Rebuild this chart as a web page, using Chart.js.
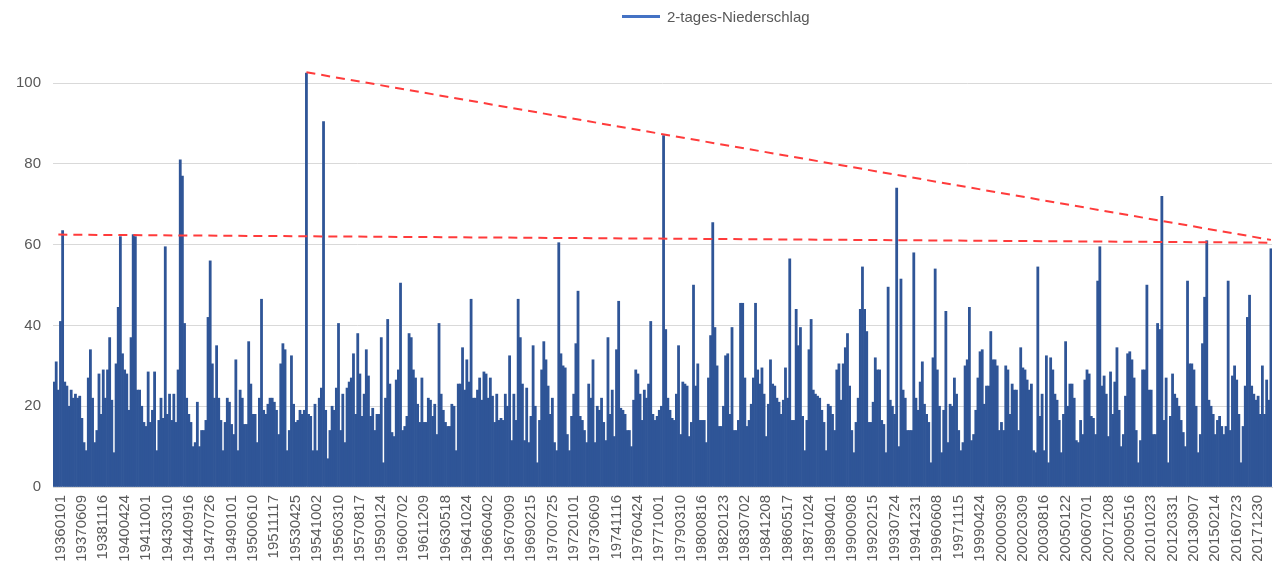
<!DOCTYPE html>
<html>
<head>
<meta charset="utf-8">
<script src="https://cdn.jsdelivr.net/npm/chart.js@4.4.1/dist/chart.umd.min.js"></script>
<style>
  body { margin: 0; background: #fff; font-family: 'Liberation Sans', Arial, sans-serif; }
  .wrap { position: relative; width: 1273px; height: 569px; }
  .legend { position: absolute; left: 622px; top: 8px; display: flex; align-items: center; color: #595959; font-size: 15px; }
  .legend .swatch { width: 38px; height: 3px; background: #4472c4; margin-right: 7px; }
</style>
</head>
<body>
<div class="wrap">
  <canvas id="chart"></canvas>
  <div class="legend"><span class="swatch"></span><span>2-tages-Niederschlag</span></div>
</div>
<script>
// tick labels (every 10th bar, starting at bar 3)
const tickLabels = [
  '19360101', '19370609', '19381116', '19400424', '19411001', '19430310', '19440916', '19470726',
  '19490101', '19500610', '19511117', '19530425', '19541002', '19560310', '19570817', '19590124',
  '19600702', '19611209', '19630518', '19641024', '19660402', '19670909', '19690215', '19700725',
  '19720101', '19730609', '19741116', '19760424', '19771001', '19790310', '19800816', '19820123',
  '19830702', '19841208', '19860517', '19871024', '19890401', '19900908', '19920215', '19930724',
  '19941231', '19960608', '19971115', '19990424', '20000930', '20020309', '20030816', '20050122',
  '20060701', '20071208', '20090516', '20101023', '20120331', '20130907', '20150214', '20160723',
  '20171230'
]
const firstTick = 3
const tickEvery = 10

// 2-tages-Niederschlag, one row per tick interval
const niederschlag = [
  26, 31, 24, 41, 63.5, 26, 25, 20, 24, 22,
  23, 22, 22.5, 17, 11, 9, 27, 34, 22, 11,
  14, 28, 18, 29, 22, 29, 37, 21.5, 8.5, 30.5,
  44.5, 62, 33, 29, 28, 19, 37, 62.5, 62, 24,
  24, 20, 16, 15, 28.5, 16, 19, 28.5, 9, 16.5,
  22, 17, 59.5, 18, 23, 16.5, 23, 16, 29, 81,
  77, 40.5, 22, 18, 16, 10, 11, 21, 10, 14,
  14, 16.5, 42, 56, 30.5, 22, 35, 22, 16.5, 9,
  16, 22, 21, 15.5, 13, 31.5, 9, 24, 22, 15.5,
  15.5, 36, 25.5, 18, 18, 11, 22, 46.5, 19, 18,
  20.5, 22, 22, 21, 19, 13, 30.5, 35.5, 34, 9,
  14, 32.5, 20.5, 16, 16.5, 19, 18, 19, 102.5, 18,
  17.5, 9, 20.5, 9, 22, 24.5, 90.5, 19, 7, 14,
  20, 19, 24.5, 40.5, 14, 23, 11, 24.5, 26, 27,
  33, 18, 38, 28, 17.5, 23, 34, 27.5, 17.5, 19.5,
  14, 18, 18, 37, 6, 22, 41.5, 25.5, 13.5, 12.5,
  26.5, 29, 50.5, 14, 15, 17.5, 38, 37, 29, 27,
  20.5, 16, 27, 16, 16, 22, 21.5, 17.5, 20.5, 13,
  40.5, 23, 19, 16, 15, 15, 20.5, 20, 9, 25.5,
  25.5, 34.5, 24, 31.5, 26, 46.5, 22, 22, 24, 27,
  21.5, 28.5, 28, 22, 27, 22.5, 16, 23, 16.5, 17,
  16.5, 23, 20, 32.5, 11.5, 23, 16.5, 46.5, 37, 25.5,
  11.5, 24.5, 11, 17.5, 35, 20, 6, 16.5, 29, 36,
  31.5, 25, 18, 22, 11, 9, 60.5, 33, 30, 29.5,
  13, 9, 17.5, 23, 35.5, 48.5, 17.5, 16.5, 14, 11,
  25.5, 22, 31.5, 11, 20, 19, 22, 16, 11.5, 37,
  18, 24, 12.5, 34, 46, 19.5, 19, 18, 14, 14,
  10, 21.5, 29, 28, 23, 16.5, 24, 22, 25.5, 41,
  18, 16.5, 17.5, 19, 20, 87, 39, 22, 19, 17,
  16.5, 23, 35, 13, 26, 25.5, 25, 12.5, 16, 50,
  25, 30.5, 16.5, 16.5, 16.5, 11, 27, 37.5, 65.5, 39.5,
  30, 15, 15, 20, 32.5, 33, 18, 39.5, 14, 14,
  16.5, 45.5, 45.5, 27, 15, 16.5, 20.5, 27, 45.5, 29,
  25.5, 29.5, 23, 12.5, 20.5, 31.5, 25.5, 25, 22, 21,
  18, 21.5, 29.5, 22, 56.5, 16.5, 16.5, 44, 35, 39.5,
  17.5, 9, 16.5, 34, 41.5, 24, 23, 22.5, 22, 19,
  16, 9, 20.5, 20, 18, 14, 29, 30.5, 21.5, 30.5,
  34.5, 38, 25, 14, 8.5, 16, 22, 44, 54.5, 44,
  38.5, 16, 16, 21, 32, 29, 29, 16.5, 15.5, 8.5,
  49.5, 21.5, 20, 18, 74, 10, 51.5, 24, 22, 14,
  14, 14, 58, 22, 19, 26, 31, 20.5, 18, 16,
  6, 32, 54, 29, 20, 8.5, 19, 43.5, 11, 20.5,
  20, 27, 23, 14, 9, 11, 30, 31.5, 44.5, 11.5,
  13, 19, 27, 33.5, 34, 20.5, 25, 25, 38.5, 31.5,
  31.5, 30, 14, 16, 14, 30, 29, 18, 25.5, 24,
  24, 14, 34.5, 29.5, 29, 26.5, 24, 25.5, 9, 8.5,
  54.5, 17.5, 23, 9, 32.5, 6, 32, 29, 23, 21.5,
  16.5, 8.5, 18, 36, 20, 25.5, 25.5, 22, 11.5, 11,
  16.5, 13, 26.5, 29, 28, 17.5, 17, 13, 51, 59.5,
  25, 27.5, 23, 12.5, 28.5, 18, 26, 34.5, 19, 10,
  13, 22.5, 33, 33.5, 31.5, 27, 14, 6, 11.5, 29,
  29, 50, 24, 24, 13, 13, 40.5, 39, 72, 16.5,
  27, 6, 17.5, 28, 23, 22, 20, 16.5, 13.5, 10,
  51, 30.5, 30.5, 29, 20, 8.5, 13, 35.5, 47, 61,
  21.5, 20, 18, 13, 16.5, 17.5, 15, 13, 15, 51,
  14, 27.5, 30, 26.5, 18, 6, 15, 25, 42, 47.5,
  25, 23, 21.5, 22.5, 18, 30, 18, 26.5, 21.5, 59
]

// red dashed guide lines: [bar index, value]
const flatTrend = [[2, 62.5], [569, 60.5]]
const peakTrend = [[118, 102.7], [569, 61.2]]

const labels = niederschlag.map((v, i) => i)

function sparse(points) {
  const arr = labels.map(() => null)
  points.forEach(([i, y]) => { arr[i] = y })
  return arr
}

const font = { family: "'Liberation Sans', Arial, sans-serif", size: 15 }

new Chart(document.getElementById('chart'), {
  type: 'bar',
  data: {
    labels: labels,
    datasets: [
      {
        type: 'line',
        data: sparse(peakTrend),
        borderColor: '#ff3b3b',
        borderWidth: 2,
        borderDash: [9, 6],
        pointRadius: 0,
        spanGaps: true,
        order: 0
      },
      {
        type: 'line',
        data: sparse(flatTrend),
        borderColor: '#ff3b3b',
        borderWidth: 2,
        borderDash: [9, 6],
        pointRadius: 0,
        spanGaps: true,
        order: 0
      },
      {
        label: '2-tages-Niederschlag',
        data: niederschlag,
        backgroundColor: '#2f5597',
        borderWidth: 0,
        barPercentage: 1,
        categoryPercentage: 1,
        order: 1
      }
    ]
  },
  options: {
    responsive: true,
    maintainAspectRatio: false,
    animation: false,
    layout: { padding: { top: 63, right: 1, bottom: 0, left: 0 } },
    plugins: {
      legend: { display: false },
      tooltip: { enabled: false }
    },
    scales: {
      x: {
        grid: { display: false, drawTicks: false },
        border: { color: '#d9d9d9' },
        afterFit: (scale) => {
          scale.height = 82
          scale.paddingLeft = 0
          scale.paddingRight = 0
        },
        ticks: {
          autoSkip: false,
          minRotation: 90,
          maxRotation: 90,
          padding: 8,
          color: '#595959',
          font: font,
          callback: (val, i) => {
            const k = (i - firstTick) / tickEvery
            return Number.isInteger(k) && k >= 0 && k < tickLabels.length ? tickLabels[k] : null
          }
        }
      },
      y: {
        min: 0,
        max: 105,
        afterFit: (scale) => {
          scale.width = 53
          scale.paddingTop = 0
          scale.paddingBottom = 0
        },
        afterBuildTicks: (scale) => {
          scale.ticks = scale.ticks.filter(t => t.value % 20 === 0)
        },
        grid: { color: '#d9d9d9', drawTicks: false },
        border: { display: false },
        ticks: {
          stepSize: 20,
          padding: 12,
          color: '#595959',
          font: font
        }
      }
    }
  }
})
</script>
</body>
</html>
